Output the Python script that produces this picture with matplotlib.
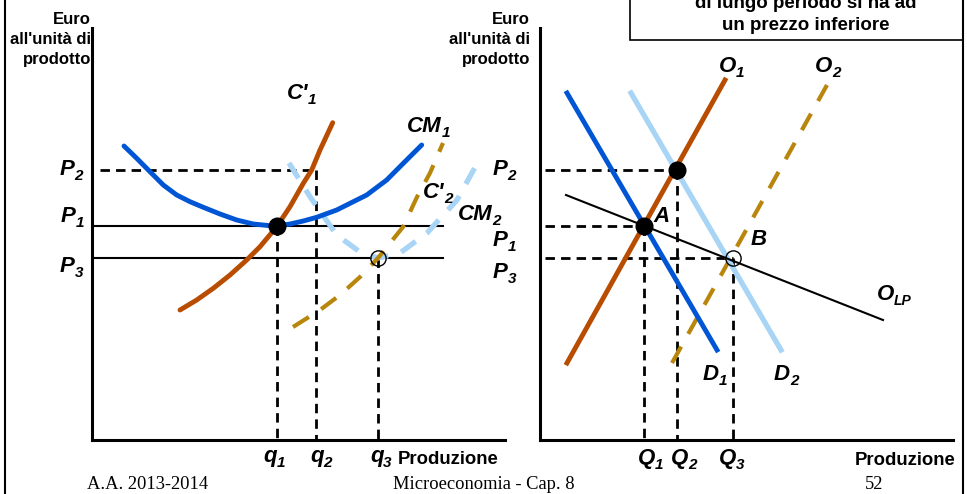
import matplotlib
matplotlib.use("Agg")
import matplotlib.pyplot as plt
from matplotlib.lines import Line2D
from matplotlib.patches import Rectangle

plt.rcParams['font.family'] = ['Liberation Sans', 'DejaVu Sans']

# price levels, shared by both panels (units from the x axis up)
P2, P1, P3 = 270, 214, 182

# left panel: the single firm
q_firm = [185, 224, 286]          # q1, q2, q3
cm1_x = [32, 44.7, 58, 71.3, 84.7, 98, 111.3, 128, 144.7, 161.3, 178, 184.7,
         198, 211.3, 224.7, 244.7, 274.7, 294.7, 311.3, 329.7]
cm1_y = [294, 281.7, 268.3, 255, 245, 238.3, 232.7, 226, 220, 216, 214.3, 214,
         216, 219, 222.7, 230, 245, 260, 276.7, 295]
mc1_x = [88, 104.7, 121.3, 138, 154.7, 168, 184.7, 198, 211.3, 219.7, 228, 240.7]
mc1_y = [130, 140, 151.7, 165, 180, 193.3, 213.3, 233.3, 256.7, 270, 290, 317.3]
mc2_x = [201, 228, 248, 268, 286, 311, 325, 338, 351]
mc2_y = [113, 130, 145, 163, 182, 213, 243, 267, 297]
cm2_x = [197, 218, 244.7, 268, 286, 308, 335, 365, 387]
cm2_y = [277, 243.3, 205, 188, 182, 187, 207, 240, 280]

# right panel: the market
Q_mkt = [104, 137, 193]           # Q1, Q2, Q3
o1_x, o1_y = [27, 185], [77, 360]
o2_x, o2_y = [132, 287], [77, 355]
d1_x, d1_y = [27, 177], [347, 90]
d2_x, d2_y = [91, 241], [347, 90]
olp_x, olp_y = [26, 343], [245, 120]

ORANGE = '#b84c00'
BLUE = '#0055d4'
LIGHT = '#a8d4f5'
GOLD = '#b8860b'

W, H = 967, 494
fig = plt.figure(figsize=(W / 100, H / 100), dpi=100)
fig.patch.set_facecolor('white')


def panel(left_px):
    ax = fig.add_axes([left_px / W, 54 / H, 413 / W, 412 / H])
    ax.set_xlim(0, 413)
    ax.set_ylim(0, 412)
    ax.patch.set_visible(False)
    for s in ['top', 'right']:
        ax.spines[s].set_visible(False)
    for s in ['left', 'bottom']:
        ax.spines[s].set_linewidth(2.2)
    ax.set_xticks([])
    ax.set_yticks([])
    return ax


dash_kw = dict(color='black', lw=2.0, dashes=(3.4, 2.2), clip_on=False)
smooth = dict(solid_capstyle='round', solid_joinstyle='round')


def dashed_guides(ax, x0, xs, ys):
    for x, y in zip(xs, ys):
        ax.plot([x0, x], [y, y], **dash_kw)
        ax.plot([x, x], [y, 0], **dash_kw)


axl = panel(92)
axl.plot([0, 351], [P1, P1], color='black', lw=1.5)
axl.plot([0, 351], [P3, P3], color='black', lw=1.5)
axl.plot([8, q_firm[1]], [P2, P2], **dash_kw)
for x, y in zip(q_firm, [P1, P2, P3]):
    axl.plot([x, x], [y, 0], **dash_kw)
axl.plot(cm2_x, cm2_y, color=LIGHT, lw=3.8, dashes=(3.4, 2.6))
axl.plot(mc2_x, mc2_y, color=GOLD, lw=3.0, dashes=(4.5, 3.5))
axl.plot(cm1_x, cm1_y, color=BLUE, lw=3.5, **smooth)
axl.plot(mc1_x, mc1_y, color=ORANGE, lw=3.5, **smooth)
axl.plot([q_firm[0]], [P1], 'o', color='black', ms=12, zorder=5)
axl.plot([q_firm[2]], [P3], 'o', mfc='none', mec='black', mew=1.0, ms=11, zorder=5)

axr = panel(540)
dashed_guides(axr, 5, Q_mkt, [P1, P2, P3])
axr.plot(o2_x, o2_y, color=GOLD, lw=3.0, dashes=(4.5, 3.5))
axr.plot(d2_x, d2_y, color=LIGHT, lw=3.8)
axr.plot(d1_x, d1_y, color=BLUE, lw=3.5)
axr.plot(o1_x, o1_y, color=ORANGE, lw=3.5)
axr.plot(olp_x, olp_y, color='black', lw=1.5)
axr.plot(Q_mkt[:2], [P1, P2], 'o', color='black', ms=12, zorder=5)
axr.plot([Q_mkt[2]], [P3], 'o', mfc='none', mec='black', mew=1.0, ms=11, zorder=5)

# overlay in pixel coordinates for frame and text
ov = fig.add_axes([0, 0, 1, 1])
ov.set_xlim(0, W)
ov.set_ylim(H, 0)
ov.axis('off')
ov.patch.set_visible(False)

ov.add_line(Line2D([5, 5], [0, H], color='black', lw=1.5))
ov.add_line(Line2D([963, 963], [0, H], color='black', lw=1.5))
ov.add_patch(Rectangle((630, -5), 333, 45, fill=False, ec='black', lw=1.2))
ov.text(806, 8, 'di lungo periodo si ha ad', ha='center', va='baseline',
        fontsize=13.5, weight='bold')
ov.text(806, 30, 'un prezzo inferiore', ha='center', va='baseline',
        fontsize=13.5, weight='bold')

for xr in [91, 530]:
    for yb, s in zip([24, 44, 64], ['Euro', "all'unità di", 'prodotto']):
        ov.text(xr, yb, s, ha='right', va='baseline', fontsize=12, weight='bold')


def lab(x, y, main, sub, size=16, subsize=11):
    t = ov.text(x, y, main, ha='left', va='baseline', fontsize=size,
                weight='bold', style='italic')
    ov.annotate(sub, xy=(1, 0), xycoords=t, xytext=(-0.2, 0),
                textcoords='offset points', ha='left', va='baseline',
                fontsize=subsize, weight='bold', style='italic')


# left panel labels
lab(60, 175, 'P', '2')
lab(61, 222, 'P', '1')
lab(60, 272, 'P', '3')
lab(287, 99, "C'", '1')
lab(407, 132, 'CM', '1')
lab(423, 198, "C'", '2')
lab(458, 220, 'CM', '2')
lab(263, 462, 'q', '1')
lab(310, 462, 'q', '2')
lab(370, 462, 'q', '3')
ov.text(398, 464, 'Produzione', ha='left', va='baseline', fontsize=13.3, weight='bold')

# right panel labels
lab(493, 175, 'P', '2')
lab(493, 246, 'P', '1')
lab(493, 278, 'P', '3')
lab(719, 72, 'O', '1')
lab(815, 72, 'O', '2')
ov.text(653, 222, 'A', ha='left', va='baseline', fontsize=16, weight='bold', style='italic')
ov.text(751, 245, 'B', ha='left', va='baseline', fontsize=16, weight='bold', style='italic')
lab(703, 380, 'D', '1')
lab(774, 380, 'D', '2')
lab(877, 300, 'O', 'LP', subsize=10)
lab(638, 464, 'Q', '1')
lab(671, 464, 'Q', '2')
lab(719, 464, 'Q', '3')
ov.text(855, 465, 'Produzione', ha='left', va='baseline', fontsize=13.3, weight='bold')

# footer
for x, s in [(87, 'A.A. 2013-2014'), (393, 'Microeconomia - Cap. 8'), (865, '52')]:
    ov.text(x, 489, s, ha='left', va='baseline', fontsize=13.3, family='Liberation Serif')

fig.savefig('out.png', dpi=100)
